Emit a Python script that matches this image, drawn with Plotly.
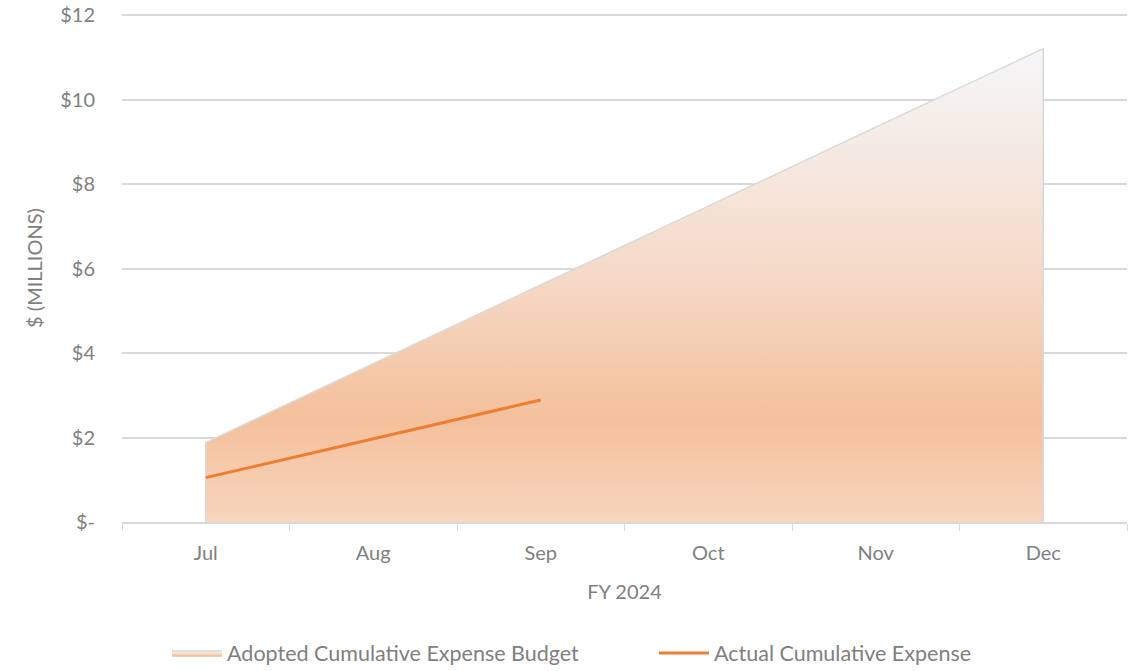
import plotly.graph_objects as go

months = ["Jul", "Aug", "Sep", "Oct", "Nov", "Dec"]
budget = [1.88, 3.75, 5.61, 7.48, 9.35, 11.21]
actual_months = ["Jul", "Aug", "Sep"]
actual = [1.05, 1.97, 2.89]
ytick_vals = [0, 2, 4, 6, 8, 10, 12]
ytick_text = ["$-", "$2", "$4", "$6", "$8", "$10", "$12"]

FONT = "Lato, 'Open Sans', sans-serif"
GRAY = "#808080"
GRID = "#D9D9D9"

# closed polygon for the budget area (baseline at zero at both ends)
poly_x = [months[0]] + months + [months[-1]]
poly_y = [0] + budget + [0]

fig = go.Figure()
fig.add_trace(go.Scatter(
    x=poly_x, y=poly_y, mode="lines", fill="toself",
    name="Adopted Cumulative Expense Budget",
    line=dict(color=GRID, width=1.5),
    fillgradient=dict(
        type="vertical",
        start=0, stop=max(budget),
        colorscale=[[0, "#F8D5BE"], [0.22, "#F4C09B"], [0.5, "#F5D8C5"],
                    [0.75, "#F5E8DF"], [1, "#F5F6FA"]],
    ),
    hoverinfo="skip",
))
fig.add_trace(go.Scatter(
    x=actual_months, y=actual, mode="lines",
    name="Actual Cumulative Expense",
    line=dict(color="#ED7D31", width=3),
    hoverinfo="skip",
))

fig.update_layout(
    width=1140, height=671,
    margin=dict(l=122, r=13, t=14, b=149, autoexpand=False),
    paper_bgcolor="white", plot_bgcolor="white",
    font=dict(family=FONT, size=20, color=GRAY),
    showlegend=True,
    legend=dict(orientation="h", xref="container", x=0.5737, xanchor="center",
                y=-0.258, yanchor="middle",
                font=dict(size=21.5, color=GRAY), itemwidth=50, entrywidth=422,
                traceorder="normal"),
    hovermode=False,
)
fig.update_xaxes(
    type="category", categoryorder="array", categoryarray=months,
    range=[-0.5, 5.5], automargin=False,
    showline=True, linecolor=GRID, linewidth=1.5,
    ticks="outside", tickson="boundaries", ticklen=7, tickcolor=GRID,
    showgrid=False, ticklabelstandoff=12,
    title=dict(text="FY 2024", font=dict(size=20, color=GRAY), standoff=22),
    tickfont=dict(size=20, color=GRAY),
)
fig.update_yaxes(
    range=[0, 12.03], tickvals=ytick_vals, ticktext=ytick_text, automargin=False,
    showgrid=True, gridcolor=GRID, gridwidth=1.5,
    zeroline=False, showline=False, ticks="",
    ticklabelstandoff=26, ticklabeloverflow="allow",
    title=dict(text="$ (MILLIONS)", font=dict(size=20, color=GRAY), standoff=12),
    tickfont=dict(size=20, color=GRAY),
)

fig.write_html("out.html", config={"displayModeBar": False},
               post_script="document.body.style.margin='0';")
